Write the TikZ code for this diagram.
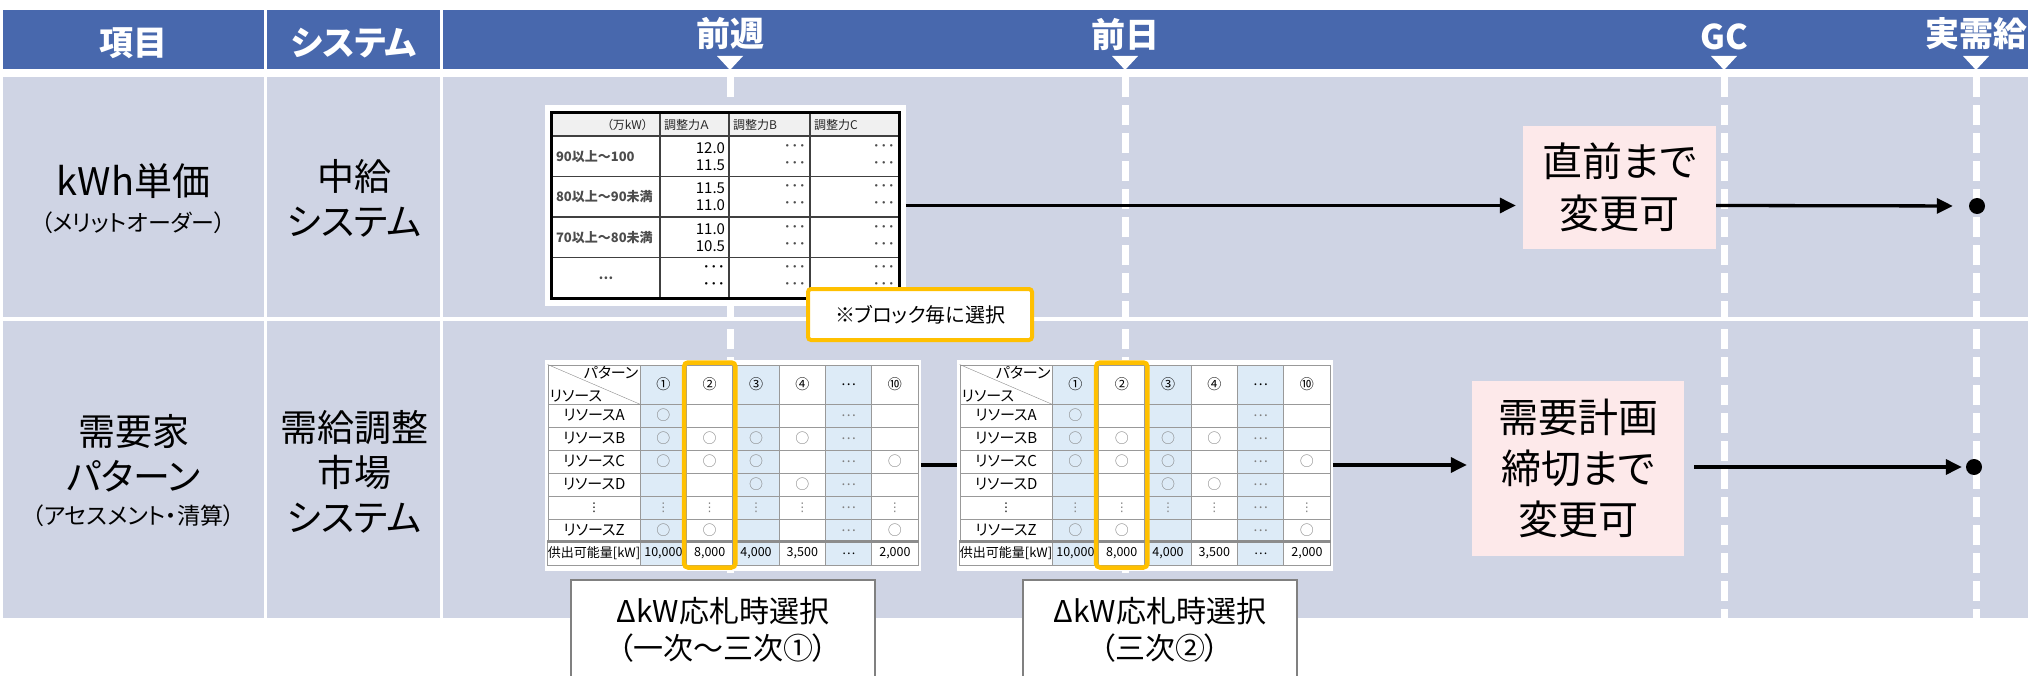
\documentclass[tikz,border=0pt]{standalone}
\usepackage{fontspec}
\setmainfont{Noto Sans CJK JP}[RawFeature=+palt]
\newfontfamily\dvfont{DejaVu Sans}
\usetikzlibrary{arrows.meta,matrix}

\definecolor{hdrblue}{RGB}{72,104,173}
\definecolor{rowgray}{RGB}{207,212,228}
\definecolor{pinkbox}{RGB}{253,233,234}
\definecolor{hlorange}{RGB}{255,192,0}
\definecolor{cellblue}{RGB}{221,235,247}

\begin{document}
\begin{tikzpicture}[x=1pt,y=-1pt]
\tikzstyle{hdr} = [text=white, font=\fontsize{34}{40}\selectfont\bfseries]
\tikzstyle{big} = [align=center, font=\fontsize{37}{45}\selectfont]
\tikzstyle{small} = [font=\fontsize{23}{28}\selectfont]
\tikzstyle{tl} = [white, line width=7pt, dash pattern=on 20pt off 8pt]
\tikzstyle{line} = [draw, line width=3.3pt, -{Triangle[length=16pt,width=15pt]}]
\tikzstyle{plain} = [draw, line width=3.3pt]
\tikzstyle{dot} = [circle, fill=black, inner sep=0pt, minimum size=16pt]
\tikzstyle{pink} = [fill=pinkbox, align=center, font=\fontsize{40}{52}\selectfont]
\tikzstyle{note} = [draw=hlorange, line width=4pt, rounded corners=3pt, fill=white,
font=\fontsize{20}{24}\selectfont]
\tikzstyle{sel} = [draw=black!50, line width=1.5pt, fill=white, align=center,
font=\fontsize{30}{37}\selectfont]
\tikzstyle{hl} = [draw=hlorange, line width=4.5pt, rounded corners=4pt]
\tikzstyle{th} = [font=\fontsize{12}{14}\selectfont, text=black!85]
\tikzstyle{vd} = [font=\dvfont\fontsize{12}{14}\selectfont]

\tikzstyle{tbl1} = [matrix of nodes, fill=white, inner xsep=6pt, inner ysep=7pt,
column sep=-1.5pt, row sep=-1.5pt,
nodes={draw=black!75, line width=1.5pt, inner xsep=4pt, inner ysep=0pt, anchor=center,
minimum height=40.5pt, font=\fontsize{15}{17}\selectfont},
column 1/.style={nodes={text width=100pt, align=left, text=black!70,
font=\fontsize{13}{15}\selectfont\bfseries}},
column 2/.style={nodes={text width=61pt, align=right}},
column 3/.style={nodes={text width=73pt, align=right, text=black!70}},
column 4/.style={nodes={text width=81pt, align=right, text=black!70}},
row 1/.style={nodes={fill=black!6, minimum height=23pt}}]

\tikzstyle{tbl2} = [matrix of nodes, nodes in empty cells, fill=white,
inner xsep=2pt, inner ysep=5pt, column sep=-1pt, row sep=-1pt,
ampersand replacement=\&,
nodes={draw=black!40, line width=1pt, minimum width=46.3pt, minimum height=23pt,
inner sep=0pt, anchor=center, text=black!50, font=\fontsize{14}{16}\selectfont},
column 1/.style={nodes={minimum width=92pt, text=black, font=\fontsize{15}{17}\selectfont}},
column 2/.style={nodes={fill=cellblue}},
column 4/.style={nodes={fill=cellblue}},
column 6/.style={nodes={fill=cellblue}},
row 1/.style={nodes={minimum height=39pt, text=black}},
row 8/.style={nodes={text=black, font=\fontsize{12.5}{14}\selectfont}}]

\useasboundingbox (0,0) rectangle (2028,676);

% header band and rows
\foreach \a/\b in {3/264,267/440,443/2028} {
\fill[hdrblue] (\a,10) rectangle (\b,69);
\fill[rowgray] (\a,77) rectangle (\b,317);
\fill[rowgray] (\a,321) rectangle (\b,618);
}

% time marks
\foreach \x in {730,1125,1724,1976} {
\fill[white] (\x-13,56) -- (\x+13,56) -- (\x,70) -- cycle;
\draw[tl] (\x,77) -- (\x,618);
}

\node[hdr] (item) at (133.5,43) {項目};
\node[hdr] (sys) at (354,43) {システム};
\node[hdr] (wk) at (730,34) {前週};
\node[hdr] (dy) at (1125,35) {前日};
\node[hdr] (gc) at (1724,37) {GC};
\node[hdr] (rt) at (1976,34) {実需給};

% left columns
\node[big, font=\fontsize{38}{44}\selectfont] (kwh) at (133.5,181) {kWh単価};
\node[small] (merit) at (133.5,223) {（メリットオーダー）};
\node[big] (ptn) at (133.5,453.5) {需要家\\パターン};
\node[small] (asm) at (133.5,516) {（アセスメント・清算）};
\node[big] (sys1) at (354,198) {中給\\システム};
\node[big] (sys2) at (354,471.5) {需給調整\\市場\\システム};

% kWh table
\matrix (t1) [tbl1] at (725.5,205.5) {
|[th, align=right]| （万kW）\hspace*{8pt} & |[th, align=left]| 調整力Ａ & |[th, align=left]| 調整力B & |[th, align=left]| 調整力C \\
90以上～100 & {12.0\\11.5} & {･･･\\･･･} & {･･･\\･･･} \\
80以上～90未満 & {11.5\\11.0} & {･･･\\･･･} & {･･･\\･･･} \\
70以上～80未満 & {11.0\\10.5} & {･･･\\･･･} & {･･･\\･･･} \\
|[align=center]| … & {･･･\\･･･} & {･･･\\･･･} & {･･･\\･･･} \\
};
\draw[line width=3pt] (t1-1-1.north west) rectangle (t1-5-4.south east);

% pattern tables
\foreach \nm/\cx in {pa/733,pb/1145} {
\matrix (\nm) [tbl2] at (\cx,465) {
 \& ① \& ② \& ③ \& ④ \& … \& ⑩ \\
リソースA \& ○ \& \& \& \& … \& \\
リソースB \& ○ \& ○ \& ○ \& ○ \& … \& \\
リソースC \& ○ \& ○ \& ○ \& \& … \& ○ \\
リソースD \& \& \& ○ \& ○ \& … \& \\
|[vd]| ⋮ \& |[vd]| ⋮ \& |[vd]| ⋮ \& |[vd]| ⋮ \& |[vd]| ⋮ \& … \& |[vd]| ⋮ \\
リソースZ \& ○ \& ○ \& \& \& … \& ○ \\
|[font=\fontsize{13}{15}\selectfont]| 供出可能量[kW] \& 10,000 \& 8,000 \& 4,000 \& 3,500 \& … \& 2,000 \\
};
\draw[black!45] (\nm-1-1.north west) -- (\nm-1-1.south east);
\node[anchor=north east, inner sep=2pt, font=\fontsize{15}{17}\selectfont] (\nm-pt) at (\nm-1-1.north east) {パターン};
\node[anchor=south west, inner sep=2pt, font=\fontsize{15}{17}\selectfont] (\nm-rs) at (\nm-1-1.south west) {リソース};
\draw[black!45, line width=2.5pt] (\nm-8-1.north west) -- (\nm-8-7.north east);
\draw[hl] ([shift={(-2pt,2pt)}]\nm-1-3.north west) rectangle ([shift={(2pt,-2pt)}]\nm-8-3.south east);
}

% boxes
\node[pink, minimum width=193pt, minimum height=123pt] (b1) at (1619.5,187.5) {直前まで\\変更可};
\node[pink, minimum width=212pt, minimum height=175pt, font=\fontsize{40}{51}\selectfont] (b2) at (1578,468.5) {需要計画\\締切まで\\変更可};
\node[dot] (d1) at (1977,206) {};
\node[dot] (d2) at (1974,467) {};

\path[line, shorten >=7pt] (t1.east) -- (t1.east -| b1.west);
\path[line, shorten >=16pt] (b1.east |- t1.east) -- (d1);
\path[plain] (pa.east) -- (pb.west);
\path[line, shorten >=5pt] (pb.east) -- (pb.east -| b2.west);
\path[line, shorten <=10pt, shorten >=4pt] (b2.east |- d2) -- (d2);

\node[note, minimum width=224pt, minimum height=51pt] (n1) at (920,314.5) {※ブロック毎に選択};

\node[sel, minimum width=304pt, minimum height=100pt] (sel1) at (723,630) {ΔkW応札時選択\\（一次～三次①）};
\node[sel, minimum width=274pt, minimum height=100pt] (sel2) at (1160,630) {ΔkW応札時選択\\（三次②）};
\end{tikzpicture}
\end{document}
